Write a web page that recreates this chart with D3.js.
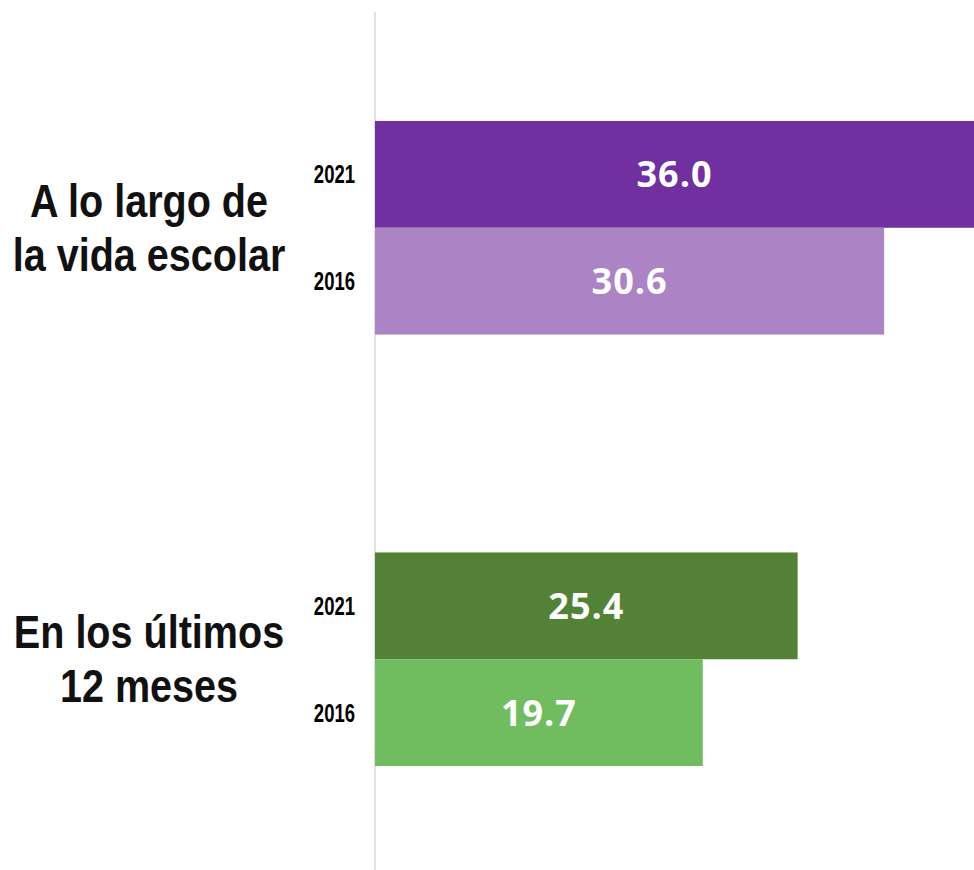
<!DOCTYPE html>
<html>
<head>
<meta charset="utf-8">
<script src="https://cdn.jsdelivr.net/npm/d3@7"></script>
<style>
  html, body { margin: 0; padding: 0; background: #ffffff; }
  svg { display: block; }
</style>
</head>
<body>
<svg id="chart" width="974" height="870"></svg>
<script>
// ---- data ----
const categories = [["A lo largo de", "la vida escolar"], ["En los últimos", "12 meses"]];
const categoryKeys = ["vida", "meses"];
const years = ["2021", "2016"];
const valuesVida = [36.0, 30.6];
const valuesMeses = [25.4, 19.7];
const colorsVida = ["#7030A0", "#AC84C6"];
const colorsMeses = ["#538135", "#70BD60"];

const seriesByCat = [valuesVida, valuesMeses];
const colorsByCat = [colorsVida, colorsMeses];

const svg = d3.select("#chart");
const W = 974, H = 870;
const x0 = 375;

const x = d3.scaleLinear().domain([0, 36]).range([x0, 974]);
const y = d3.scaleBand().domain(categoryKeys).range([13.1, 873.9])
  .paddingInner(0.505).paddingOuter(0.25);
const yInner = d3.scaleBand().domain(years).range([0, y.bandwidth()]).padding(0);

// axis line
svg.append("line")
  .attr("x1", x0).attr("x2", x0)
  .attr("y1", 12).attr("y2", H)
  .attr("stroke", "#d9d9d9").attr("stroke-width", 1.5);

categoryKeys.forEach((key, ci) => {
  const g = svg.append("g").attr("transform", `translate(0,${y(key)})`);
  const vals = seriesByCat[ci];
  years.forEach((yr, yi) => {
    const v = vals[yi];
    const by = yInner(yr);
    const bh = yInner.bandwidth();
    g.append("rect")
      .attr("x", x(0)).attr("y", by)
      .attr("width", x(v) - x(0)).attr("height", bh)
      .attr("fill", colorsByCat[ci][yi]);
    g.append("text")
      .attr("x", (x(0) + x(v)) / 2).attr("y", by + bh / 2)
      .attr("dy", "0.36em")
      .attr("text-anchor", "middle")
      .attr("fill", "#ffffff")
      .style("font-family", "'Open Sans', sans-serif")
      .style("font-weight", "700")
      .style("font-size", "36px")
      .style("letter-spacing", "1px")
      .text(d3.format(".1f")(v));
    // year label
    g.append("g")
      .attr("transform", `translate(355,${by + bh / 2}) scale(0.74,1)`)
      .append("text")
      .attr("dy", "0.36em")
      .attr("text-anchor", "end")
      .attr("fill", "#000000")
      .style("font-family", "'Liberation Sans', Arial, sans-serif")
      .style("font-weight", "700")
      .style("font-size", "25px")
      .text(yr);
  });
  // category label
  const cy = y(key) + y.bandwidth() / 2;
  const lab = svg.append("g").attr("transform", `translate(149,${cy}) scale(0.86,1)`);
  categories[ci].forEach((line, li) => {
    lab.append("text")
      .attr("x", 0).attr("y", li === 0 ? -11 : 43)
      .attr("text-anchor", "middle")
      .attr("fill", "#111111")
      .style("font-family", "'Liberation Sans', Arial, sans-serif")
      .style("font-weight", "700")
      .style("font-size", "46px")
      .text(line);
  });
});
</script>
</body>
</html>
